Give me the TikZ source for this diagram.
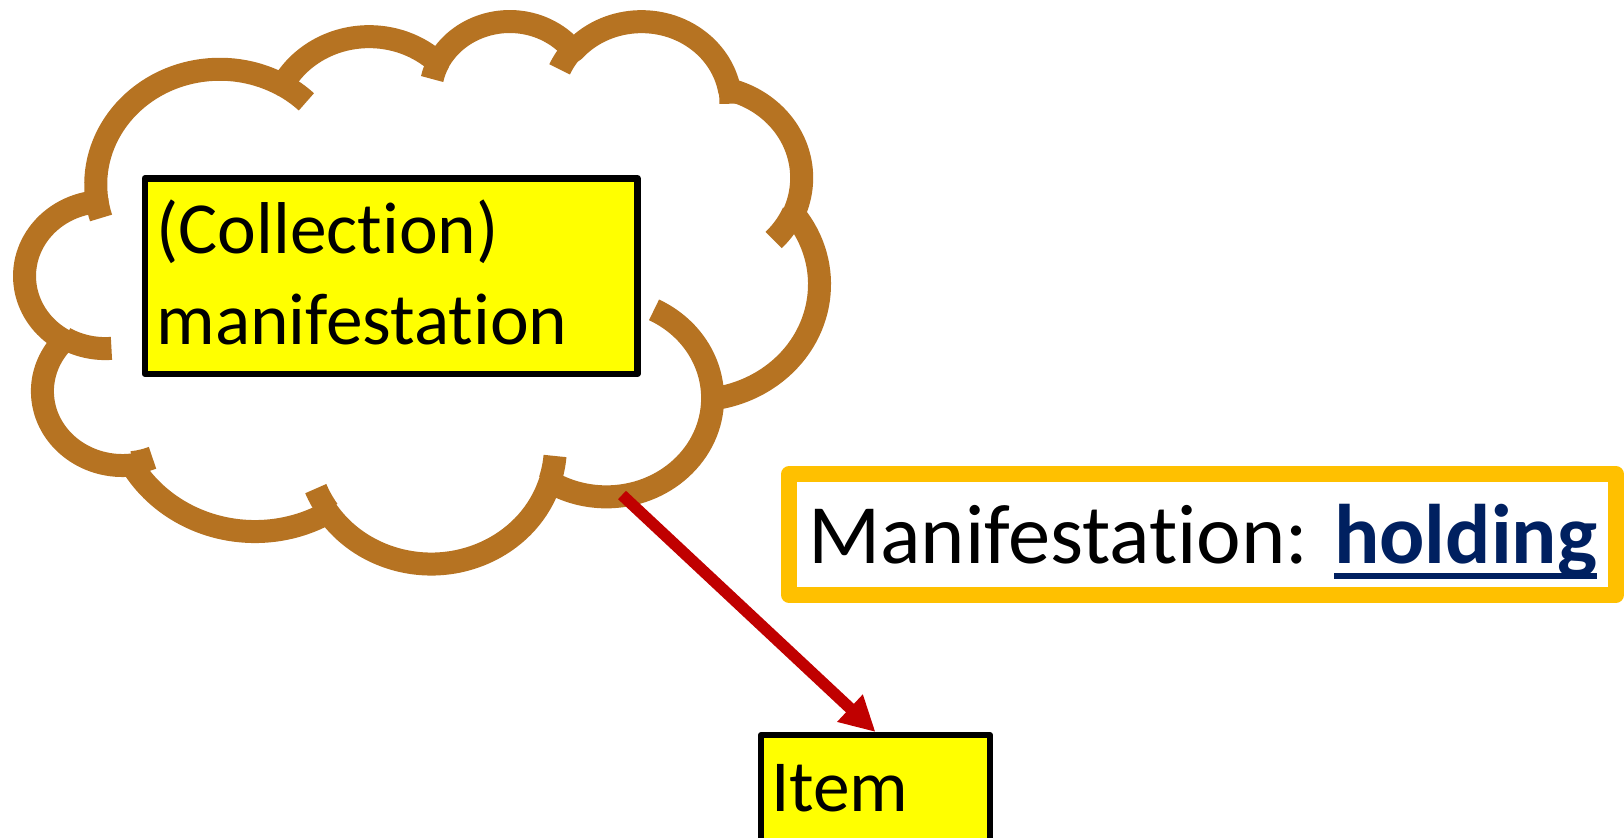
\documentclass[tikz,border=0pt]{standalone}
\usepackage{fontspec}
\setmainfont{Carlito}[Ligatures={NoCommon}]
\usetikzlibrary{arrows.meta}
\definecolor{cloudbrown}{RGB}{182,115,34}
\definecolor{boxyellow}{RGB}{255,255,0}
\definecolor{frameorange}{RGB}{255,192,0}
\definecolor{navyblue}{RGB}{0,32,96}
\definecolor{arrowred}{RGB}{192,0,0}
\newcommand\holdul[1]{\setbox0\hbox{#1}\rlap{\color{navyblue}\raisebox{-7.7pt}{\rule{\wd0}{3pt}}}\box0}
\begin{document}
\begin{tikzpicture}[x=0.5pt,y=-0.5pt,
  carc/.style n args={4}{insert path={arc[x radius=#1, y radius=#2,
     start angle={atan2((#1)*sin(#3),(#2)*cos(#3))},
     delta angle={(#4)+Mod(atan2((#1)*sin((#3)+(#4)),(#2)*cos((#3)+(#4)))-atan2((#1)*sin(#3),(#2)*cos(#3))-(#4)+180,360)-180}]}},
  cloudline/.style={draw=cloudbrown, line width=11.5pt, line join=round},
  ybox/.style={draw=black, fill=boxyellow, line width=3.25pt, line join=round, inner sep=0pt},
  obox/.style={draw=frameorange, fill=white, line width=7.75pt, line join=round, inner sep=0pt},
  txt/.style={anchor=base west, inner sep=0pt, outer sep=0pt},
  bigfont/.style={font=\fontsize{36.7pt}{45.5pt}\selectfont},
  manfont/.style={font=\fontsize{42.25pt}{50pt}\selectfont},
  link/.style={draw=arrowred, line width=5.8pt, -{Triangle[length=17.5pt,width=17.5pt]}}]
\useasboundingbox (0,0) rectangle (1624,837);
% cloud
\begin{scope}[shift={(25.2,19.75)}, x=0.91895pt, y=-0.62765pt]
\path[cloudline, fill=white] (39.00,143.70)
  [carc={67.53}{91.90}{-190.48748}{123.78053}]
  [carc={53.33}{72.67}{-144.10238}{89.94523}]
  [carc={43.65}{59.45}{-145.80792}{99.72302}]
  [carc={48.57}{65.95}{-130.98607}{117.24173}]
  [carc={53.33}{72.73}{-78.70888}{109.02692}]
  [carc={67.75}{92.20}{-46.26725}{130.269}] coordinate (j67)
  [carc={57.85}{78.67}{0.62502}{114.03333}]
  [carc={67.52}{92.15}{22.4516}{115.17255}]
  [carc={77.20}{105.43}{66.24263}{75.71102}]
  [carc={43.60}{59.18}{-274.94208}{146.73557}]
  [carc={43.45}{59.45}{-246.8285}{152.51885}] -- cycle;
\path[cloudline]
  (46.93,261.77) [carc={43.45}{59.45}{86.742}{26.4295}]
  (69.28,348.99) [carc={43.60}{59.18}{73.61047}{11.44747}]
  (164.78,390.90) [carc={67.52}{92.15}{137.62415}{14.0811}]
  (288.27,347.51) [carc={67.52}{92.15}{6.45327}{15.99835}]
  (j67) [carc={57.85}{78.67}{0.62502}{-70.35}]
  (417.98,153.54) [carc={53.33}{72.73}{30.40267}{22.53903}]
  (383.24,54.26) [carc={48.57}{65.95}{-13.74433}{14.85993}]
  (290.78,39.52) [carc={48.57}{65.95}{-149.18145}{18.19537}]
  (221.41,47.20) [carc={43.65}{59.45}{-163.49427}{17.68635}]
  (140.00,51.92) [carc={67.53}{91.90}{-66.70695}{12.31935}]
  (41.27,157.89) [carc={67.53}{91.90}{157.65435}{11.85817}];
\end{scope}
% collection manifestation
\node[ybox, minimum width=246.25pt, minimum height=97.75pt] (coll) at (391.25,276) {};
\node[txt, bigfont] (colltext) at (156.5,253.3) {\vtop{\hbox{(Collection)}\hbox{manifestation}}};
% manifestation: holding
\node[obox, minimum width=413.5pt, minimum height=60.5pt] (manbox) at (1202.5,534.5) {};
\node[txt, manfont] (mantext) at (808,563.3) {Manifestation: \holdul{\textcolor{navyblue}{\bfseries holding}}};
% item
\node[ybox, line width=3pt, minimum width=114.5pt, minimum height=82.5pt] (item) at (875.5,817.5) {};
\node[txt, bigfont] (itemtext) at (771,811) {Item};
% connector
\coordinate (cloudbot) at (622,495);
\draw[link] (cloudbot) -- (item.north);
\end{tikzpicture}
\end{document}
